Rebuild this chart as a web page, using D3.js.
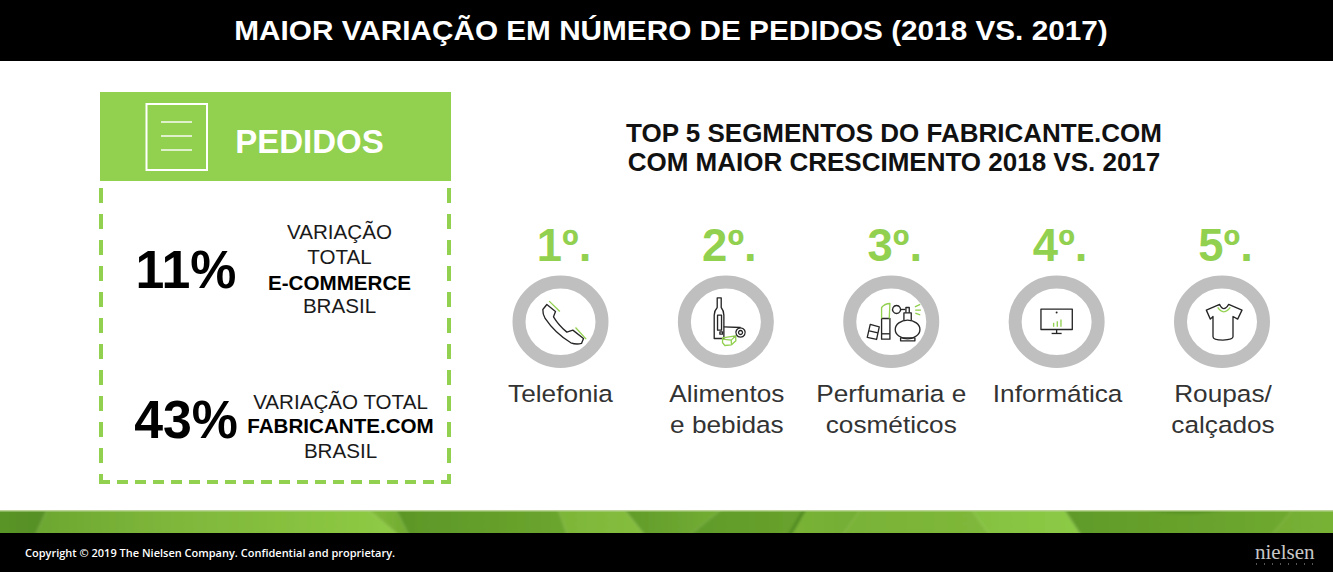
<!DOCTYPE html>
<html><head><meta charset="utf-8">
<script src="https://cdn.jsdelivr.net/npm/d3@7/dist/d3.min.js"></script>
<style>html,body{margin:0;padding:0;background:#fff;overflow:hidden}svg{display:block}text{font-family:"Liberation Sans",Arial,sans-serif}</style>
</head><body><svg id="c" width="1333" height="572"></svg>
<script>
const title = "MAIOR VARIAÇÃO EM NÚMERO DE PEDIDOS (2018 VS. 2017)";
const panelTitle = "PEDIDOS";
const statValues = ["11%", "43%"];
const statLines = [
  [["VARIAÇÃO",0],["TOTAL",0],["E-COMMERCE",1],["BRASIL",0]],
  [["VARIAÇÃO TOTAL",0],["FABRICANTE.COM",1],["BRASIL",0]]
];
const heading = ["TOP 5 SEGMENTOS DO FABRICANTE.COM","COM MAIOR CRESCIMENTO 2018 VS. 2017"];
const ranks = ["1º.","2º.","3º.","4º.","5º."];
const segments = [["Telefonia"],["Alimentos","e bebidas"],["Perfumaria e","cosméticos"],["Informática"],["Roupas/","calçados"]];
const copyright = "Copyright © 2019 The Nielsen Company. Confidential and proprietary.";

const svg = d3.select("#c");
const GREEN="#92d050", DARK="#262626", GREY="#bfbfbf";
const defs = svg.append("defs");
defs.append("filter").attr("id","soft").attr("x",-0.05).attr("width",1.1).append("feGaussianBlur").attr("stdDeviation",1.8);
defs.append("clipPath").attr("id","strip").append("rect").attr("y",510).attr("width",1333).attr("height",23);

function stx(x,y,t,size,opts={}){
  return svg.append("text").attr("transform",`translate(${x},${y}) scale(${opts.sx||1},1)`).attr("text-anchor","middle")
    .attr("font-size",size).attr("font-weight",opts.b?700:400).attr("fill",opts.fill||"#000").text(t);
}

// bands
svg.append("rect").attr("width",1333).attr("height",61).attr("fill","#000");
const band = [
 [-20,51,32,-20,["#5a9628","#568f25"]],
 [51,357,408,32,["#6ba62f","#7db53a","#86c03e","#90cc46"]],
 [357,391,413,408,["#86bf3e","#6fa92f"]],
 [391,555,570,413,["#5b9627","#6ca62e"]],
 [555,617,651,570,["#7cb538","#86bf3e"]],
 [617,733,680,651,["#5f9a29","#76b035"]],
 [733,807,788,680,["#5f9a29","#68a22d"]],
 [807,867,837,788,["#7ab336","#72ad33"]],
 [867,965,995,837,["#78b236","#7fb83a"]],
 [965,1058,1086,995,["#84c040","#8ccb45"]],
 [1058,1301,1265,1086,["#5f9a29","#6fa92f"]],
 [1301,1353,1353,1265,["#72ac32","#7ab436"]]
];
const stripG = svg.append("g").attr("clip-path","url(#strip)").append("g").attr("filter","url(#soft)");
band.forEach(([a,b,c,d,cols],i)=>{
  const lo=Math.min(a,d), hi=Math.max(b,c);
  const lg=defs.append("linearGradient").attr("id","lf"+i).attr("gradientUnits","userSpaceOnUse").attr("x1",lo).attr("x2",hi).attr("y1",0).attr("y2",0);
  cols.forEach((col,j)=>lg.append("stop").attr("offset",j/(cols.length-1)).attr("stop-color",col));
  stripG.append("path").attr("d",d3.line()([[a,500],[b,500],[c,543],[d,543]])+"Z").attr("fill",`url(#lf${i})`);
});
stripG.append("path").attr("d","M807 505L788 538").attr("stroke","#4c8620").attr("stroke-width",3).attr("fill","none");
stripG.append("path").attr("d","M1140 509Q1185 518 1230 509Z").attr("fill","#558f24");
svg.append("rect").attr("y",510).attr("width",1333).attr("height",1.5).attr("fill","#b9d495");
svg.append("rect").attr("y",533).attr("width",1333).attr("height",39).attr("fill","#000");

stx(671,40,title,28,{b:1,sx:1.062,fill:"#fff"});

// left panel
const dashV="15 11", dashH="11 7";
[101,449].forEach(xx=>svg.append("line").attr("x1",xx).attr("x2",xx).attr("y1",188).attr("y2",484).attr("stroke",GREEN).attr("stroke-width",4).attr("stroke-dasharray",dashV));
svg.append("line").attr("x1",99).attr("x2",451).attr("y1",482).attr("y2",482).attr("stroke",GREEN).attr("stroke-width",4).attr("stroke-dasharray",dashH);
svg.append("rect").attr("x",100).attr("y",92).attr("width",351).attr("height",89).attr("fill",GREEN);
svg.append("rect").attr("x",146.5).attr("y",104).attr("width",60.5).attr("height",66).attr("fill","none").attr("stroke","#fff").attr("stroke-width",2);
[122,136,150].forEach(y=>svg.append("line").attr("x1",161).attr("x2",192).attr("y1",y).attr("y2",y).attr("stroke","#fff").attr("stroke-width",1.4));
stx(309.5,153,panelTitle,33,{b:1,fill:"#fff"});

const statY = d3.scaleOrdinal().domain(statValues).range([288,438]);
const lineY = [[239,264,290,313],[409,433,458]];
statValues.forEach((v,i)=>{
  stx(186,statY(v),v,54,{b:1,sx:0.96});
  statLines[i].forEach(([t,b],j)=>stx(i?340.5:339.5,lineY[i][j],t,20,{b,sx:1.03,fill:b?"#000":"#1a1a1a"}));
});

// right side
heading.forEach((t,i)=>stx(894,142+i*29,t,25,{b:1,sx:1.04,fill:"#111"}));

const x = d3.scalePoint().domain(ranks).range([560.5,1222]);
const zoomC = [[181,155],[678,155],[184,155],[680,155],[185,155]];
const labelOff = [0,1,0,1,1];
const icons = [
 {k:["M128 118L140 103L166 124L160 140Q175 165 200 186L218 180L250 205L244 220Q228 224 212 218Q165 190 135 145Q127 130 128 118Z"],
  g:["M147 93L179 124","M226 172L258 207"]},
 {k:["M652 83L664 83L664 112Q672 122 672 135L672 205L643 205L643 135Q643 122 652 112Z","M653 135H665V180H653Z","M672 170L722 172","M700 200L709 199","M660 185L668 185V192H660Z","M722 173A14 14 0 1 1 721.9 173Z","M722 181A6 6 0 1 1 721.9 181Z"],
  g:["M668 203L707 197L708 212L695 224L675 226L668 218Z","M668 207L694 210L707 198","M694 210L695 224"]},
 {k:["M155 145H180V207H155Z","M155 191H180","M121 163L148 170L140 208L112 202Z","M118 182L144 188","M196 178A37 28 0 1 1 270 178A37 28 0 1 1 196 178Z","M222 150V128H244V150","M228 128V112H238V128","M212 203H255V212H212Z","M200 106A12 12 0 1 1 199.9 106Z","M212 118H226"],
  g:["M155 145V112Q165 100 180 100L178 145","M255 110L271 103","M256 120L273 120","M256 129L271 134"]},
 {k:["M633 117H727V178H633Z","M680 178V190","M665 190H695"],
  g:["M671 170V158","M682 170V153","M693 170V148"], dot:[680,127]},
 {k:["M138 120L178 103Q190 128 205 103L245 120L232 147L218 139V200Q218 208 188 210Q158 210 158 200V139L150 147Z"],
  g:["M172 112Q190 138 210 112"]}
];

ranks.forEach((r,i)=>{
  const cx=x(r);
  stx(cx+3.5,261,r,45.5,{b:1,fill:GREEN});
  svg.append("ellipse").attr("cx",cx).attr("cy",321.8).attr("rx",41.5).attr("ry",39.7).attr("fill","#fff").attr("stroke",GREY).attr("stroke-width",13);
  const g=svg.append("g").attr("transform",`translate(${cx},321.8) scale(${1/3}) translate(${-zoomC[i][0]},${-zoomC[i][1]})`).attr("fill","none").attr("stroke-linejoin","round");
  icons[i].k.forEach(d=>g.append("path").attr("d",d).attr("stroke",DARK).attr("stroke-width",4));
  icons[i].g.forEach(d=>g.append("path").attr("d",d).attr("stroke",GREEN).attr("stroke-width",4));
  if(icons[i].dot) g.append("circle").attr("cx",icons[i].dot[0]).attr("cy",icons[i].dot[1]).attr("r",3).attr("fill",DARK);
  segments[i].forEach((t,j)=>stx(cx+labelOff[i],402+j*31,t,24.5,{sx:1.07,fill:"#333"}));
});

// footer
svg.append("text").attr("x",25).attr("y",557).attr("font-size",11).attr("font-weight",600).attr("fill","#fff").style("font-family","'Open Sans'").text(copyright);
svg.append("text").attr("x",1255).attr("y",559).attr("font-size",21).attr("fill","#c8c8c8").style("font-family","'Liberation Serif'").text("nielsen");
d3.range(8).forEach(i=>svg.append("rect").attr("x",1256+i*8).attr("y",563.5).attr("width",1).attr("height",1).attr("fill","#aaa"));
</script></body></html>
